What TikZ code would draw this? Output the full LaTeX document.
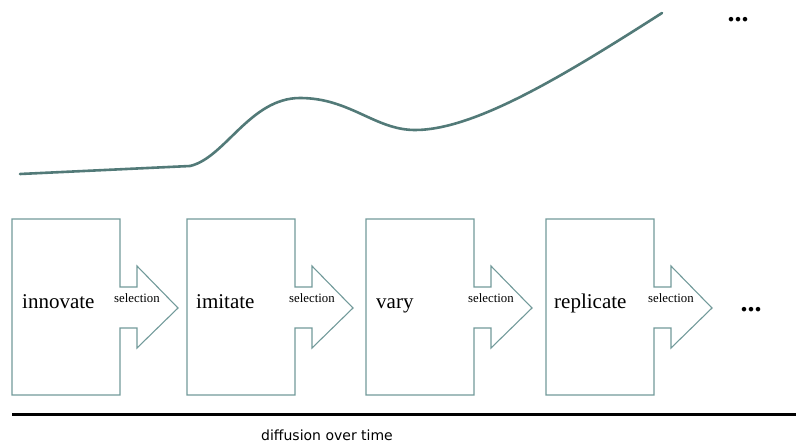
\documentclass[tikz,border=0pt]{standalone}
\usepackage{fontspec}
\setmainfont{Liberation Serif}
\newfontfamily\axisfont{DejaVu Sans}
\usepackage{tikz}
\usetikzlibrary{positioning}
\definecolor{curvecol}{HTML}{527A78}
\definecolor{boxcol}{HTML}{729A9A}
\tikzset{
	stageline/.style = {draw = boxcol, line width = 1.1pt},
	stagelabel/.style = {anchor = base west, inner sep = 0pt, font = \fontsize{21}{23}\selectfont},
	sellabel/.style = {anchor = base west, inner sep = 0pt, font = \fontsize{12.8}{14}\selectfont},
	dots/.style = {anchor = base, inner sep = 0pt, font = \fontsize{28}{30}\selectfont\bfseries}
}

\begin{document}
\begin{tikzpicture}[x=1pt, y=-1pt]
				\useasboundingbox (0,0) rectangle (796,444);
				%\draw [help lines, step=50] (0,0) grid (796,444);
				% growth curve
				\draw [curvecol, line width = 2.6pt, line cap = round] (20,174) -- (190,166)
					.. controls (225,158) and (250,98) .. (300,98)
					.. controls (350,98) and (375,130) .. (415,130)
					.. controls (475,130) and (565,75) .. (662,13);
				\node [dots] (topdots) at (738,22) {...};
				% stages with selection arrows
				\foreach \x/\name/\txt/\dx in {12/inn/innovate/10, 187/imi/imitate/9, 366/var/vary/10, 546/rep/replicate/8}
				{
					\draw [stageline] (\x,219) -- ++(108,0) -- ++(0,68) -- ++(17,0) -- ++(0,-21)
						-- ++(41,42) -- ++(-41,40) -- ++(0,-20) -- ++(-17,0) -- ++(0,67) -- ++(-108,0) -- cycle;
					\node [stagelabel] (\name) at (\x+\dx,308) {\txt};
					\node [sellabel] (\name sel) at (\x+102,302) {selection};
				}
				\node [dots] (enddots) at (751,311) {...};
				% time axis
				\coordinate (axisL) at (12,414.5);
				\coordinate (axisR) at (796,414.5);
				\draw [line width = 3pt] (axisL) -- (axisR);
				\node [font = \axisfont\fontsize{14}{16}\selectfont, inner sep = 0pt] (axislabel) at (327,435) {diffusion over time};
		\end{tikzpicture}
\end{document}
